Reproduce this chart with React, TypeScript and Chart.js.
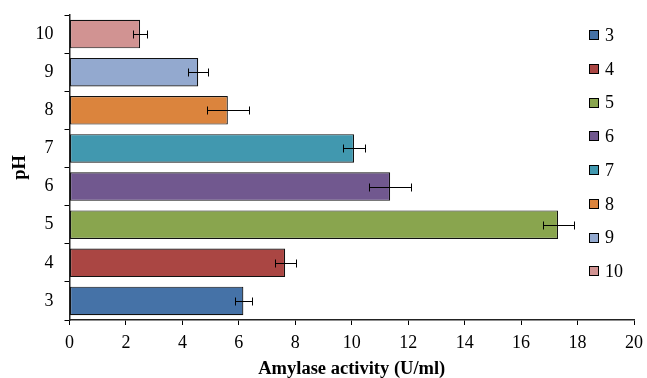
import React, { useEffect, useRef } from 'react';
import { Chart, registerables } from 'chart.js';

Chart.register(...registerables);

// ---- data ----
const phLevels: string[] = ['3', '4', '5', '6', '7', '8', '9', '10'];
const activity: number[] = [6.16, 7.64, 17.31, 11.36, 10.08, 5.61, 4.56, 2.5];
const errors: number[] = [0.3, 0.37, 0.55, 0.75, 0.38, 0.74, 0.35, 0.26];
const barColors: string[] = ['#4572A7', '#AA4643', '#89A54E', '#71588F', '#4198AF', '#DB843D', '#93A9CF', '#D19392'];
const xMin = 0;
const xMax = 20;
const xStep = 2;
const xTitle = 'Amylase activity (U/ml)';
const yTitle = 'pH';

const FONT = "'Liberation Serif', 'Times New Roman', serif";

const errorBarPlugin = {
  id: 'errorBars',
  afterDatasetsDraw(chart: any) {
    const { ctx, scales } = chart;
    const xs = scales.x;
    const meta = chart.getDatasetMeta(0);
    ctx.save();
    ctx.strokeStyle = '#000';
    ctx.lineWidth = 1;
    meta.data.forEach((bar: any, i: number) => {
      const cy = Math.round(bar.y) + 0.5;
      const x1 = Math.round(xs.getPixelForValue(activity[i] - errors[i])) + 0.5;
      const x2 = Math.round(xs.getPixelForValue(activity[i] + errors[i])) + 0.5;
      ctx.beginPath();
      ctx.moveTo(x1, cy);
      ctx.lineTo(x2, cy);
      ctx.moveTo(x1, cy - 4);
      ctx.lineTo(x1, cy + 4);
      ctx.moveTo(x2, cy - 4);
      ctx.lineTo(x2, cy + 4);
      ctx.stroke();
    });
    ctx.restore();
  },
};

const sideLegendPlugin = {
  id: 'sideLegend',
  afterDraw(chart: any) {
    const { ctx, chartArea } = chart;
    const boxLeft = chartArea.right - 45;
    const firstY = chartArea.top + 20.3;
    const step = 33.7;
    ctx.save();
    ctx.font = `18px ${FONT}`;
    ctx.textBaseline = 'middle';
    ctx.textAlign = 'left';
    phLevels.forEach((label, i) => {
      const cy = firstY + i * step;
      const top = Math.round(cy - 5) + 0.5;
      ctx.fillStyle = barColors[i];
      ctx.fillRect(boxLeft + 0.5, top, 9, 9);
      ctx.strokeStyle = '#000';
      ctx.lineWidth = 1;
      ctx.strokeRect(boxLeft + 0.5, top, 9, 9);
      ctx.fillStyle = '#000';
      ctx.fillText(label, boxLeft + 16, cy + 1);
    });
    ctx.restore();
  },
};

export default function App() {
  const canvasRef = useRef<HTMLCanvasElement | null>(null);

  useEffect(() => {
    const canvas = canvasRef.current;
    if (!canvas) return;
    Chart.defaults.font.family = FONT;
    Chart.defaults.color = '#000';
    const chart = new Chart(canvas, {
      type: 'bar',
      data: {
        labels: phLevels,
        datasets: [
          {
            data: activity,
            backgroundColor: barColors,
            borderColor: '#111',
            borderWidth: 1.2,
            borderSkipped: false,
            barPercentage: 0.75,
            categoryPercentage: 1,
          },
        ],
      },
      options: {
        indexAxis: 'y',
        responsive: false,
        animation: false,
        layout: { padding: { top: 15, right: 13, bottom: 0, left: 0 } },
        plugins: {
          legend: { display: false },
          tooltip: { enabled: false },
        },
        scales: {
          x: {
            type: 'linear',
            min: xMin,
            max: xMax,
            ticks: { stepSize: xStep, color: '#000', font: { family: FONT, size: 18 }, padding: 7.2 },
            grid: { drawOnChartArea: false, drawTicks: true, tickLength: 5, color: '#000', lineWidth: 1 },
            border: { display: true, color: '#222', width: 1.5 },
            title: {
              display: true,
              text: xTitle,
              color: '#000',
              font: { family: FONT, size: 18.5, weight: 'bold', lineHeight: 1 },
              padding: { top: 0, bottom: -0.75 },
            },
            afterFit(scale: any) {
              scale.height = 58;
              scale.paddingLeft = 0;
              scale.paddingRight = 0;
            },
          },
          y: {
            type: 'category',
            reverse: true,
            ticks: { color: '#000', font: { family: FONT, size: 18 }, padding: 11 },
            grid: { offset: true, drawOnChartArea: false, drawTicks: true, tickLength: 5, color: '#000', lineWidth: 1 },
            border: { display: true, color: '#222', width: 1.5 },
            title: {
              display: true,
              text: yTitle,
              color: '#000',
              font: { family: FONT, size: 18.5, weight: 'bold', lineHeight: 1 },
              padding: { top: 11.25, bottom: 0 },
            },
            afterFit(scale: any) {
              scale.width = 69.5;
              scale.paddingTop = 0;
              scale.paddingBottom = 0;
            },
          },
        },
      } as any,
      plugins: [errorBarPlugin, sideLegendPlugin],
    });
    return () => chart.destroy();
  }, []);

  return (
    <canvas
      ref={canvasRef}
      width={647}
      height={378}
      style={{ position: 'fixed', left: 0, top: 0, display: 'block', background: '#fff' }}
    />
  );
}
